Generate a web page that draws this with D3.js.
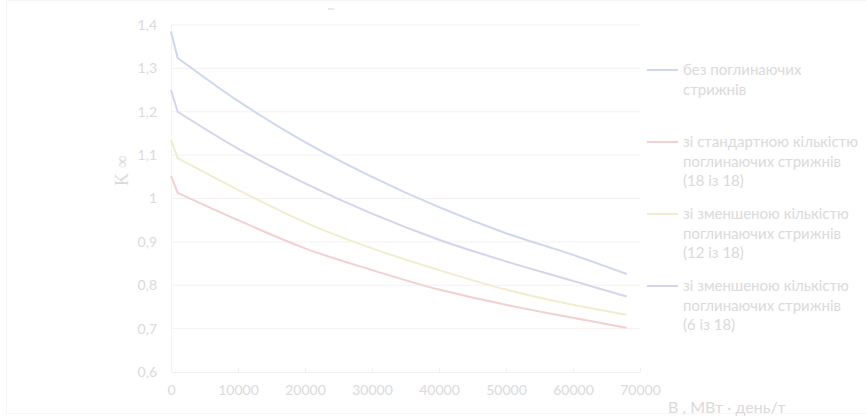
<!DOCTYPE html>
<html>
<head>
<meta charset="utf-8">
<script src="https://cdn.jsdelivr.net/npm/d3@7"></script>
<style>
  html, body { margin: 0; padding: 0; background: #fff; }
  svg { display: block; }
</style>
</head>
<body>
<svg id="chart" width="866" height="416"></svg>
<script>
// Burn-up (MW·day/t) sampling points
const burnup = [0, 1000, 10000, 20000, 30000, 40000, 50000, 60000, 68000];

// K∞ for each absorber-rod configuration
const noRods   = [1.385, 1.324, 1.225, 1.13, 1.05, 0.98, 0.92, 0.87, 0.826];
const rods18   = [1.052, 1.013, 0.95, 0.885, 0.835, 0.79, 0.755, 0.725, 0.702];
const rods12   = [1.135, 1.093, 1.02, 0.945, 0.885, 0.835, 0.79, 0.755, 0.732];
const rods6    = [1.25, 1.20, 1.115, 1.035, 0.965, 0.905, 0.855, 0.81, 0.774];

const seriesNames = [
  ["без поглинаючих", "стрижнів"],
  ["зі стандартною кількістю", "поглинаючих стрижнів", "(18 із 18)"],
  ["зі зменшеною кількістю", "поглинаючих стрижнів", "(12 із 18)"],
  ["зі зменшеною кількістю", "поглинаючих стрижнів", "(6 із 18)"]
];
const seriesColors = ["#cdd7ee", "#f2d0d0", "#f1edcf", "#d6d4ea"];

const xTicks = [0, 10000, 20000, 30000, 40000, 50000, 60000, 70000];
const yTicks = [0.6, 0.7, 0.8, 0.9, 1.0, 1.1, 1.2, 1.3, 1.4];

const series = [noRods, rods18, rods12, rods6];

const svg = d3.select("#chart");
const plotLeft = 171, plotRight = 640, plotTop = 25, plotBottom = 372;
const textColor = "#dadada";
const font = "Lato, 'Open Sans', sans-serif";

const x = d3.scaleLinear().domain([0, 70000]).range([plotLeft, plotRight]);
const y = d3.scaleLinear().domain([0.6, 1.4]).range([plotBottom, plotTop]);

// faint outer frame
svg.append("rect")
  .attr("x", 6.5).attr("y", 0.5).attr("width", 880).attr("height", 413)
  .attr("fill", "none").attr("stroke", "#f6f6f6");

// horizontal gridlines
svg.append("g").selectAll("line").data(yTicks.slice(1)).join("line")
  .attr("x1", plotLeft).attr("x2", plotRight)
  .attr("y1", d => y(d)).attr("y2", d => y(d))
  .attr("stroke", "#f5f2f2").attr("stroke-width", 1);

// y axis
const yAxis = d3.axisLeft(y).tickValues(yTicks)
  .tickFormat(d => d === 1 ? "1" : d3.format(".1f")(d).replace(".", ","))
  .tickSize(0).tickPadding(14);
const gy = svg.append("g").attr("transform", `translate(${plotLeft},0)`).call(yAxis);
gy.select(".domain").attr("stroke", "#f4f2f2");
gy.selectAll("text").attr("fill", textColor)
  .style("font-family", font).style("font-size", "14px");

// x axis
const xAxis = d3.axisBottom(x).tickValues(xTicks).tickFormat(d3.format("d"))
  .tickSizeInner(-4).tickSizeOuter(0).tickPadding(13);
const gx = svg.append("g").attr("transform", `translate(0,${plotBottom})`).call(xAxis);
gx.select(".domain").attr("stroke", "#f2f0f0");
gx.selectAll(".tick line").attr("stroke", "#f2f0f0");
gx.selectAll("text").attr("fill", textColor)
  .style("font-family", font).style("font-size", "14px");

// curves: the initial xenon drop is a straight segment, the burn-up tail is smoothed
const pts = vals => vals.map((v, i) => [burnup[i], v]);
const drop = d3.line().x(d => x(d[0])).y(d => y(d[1]));
const tail = d3.line().x(d => x(d[0])).y(d => y(d[1])).curve(d3.curveMonotoneX);
svg.append("g").selectAll("path").data(series).join("path")
  .attr("d", d => {
    const p = pts(d);
    return drop(p.slice(0, 2)) + tail(p.slice(1)).replace(/^M/, "L");
  })
  .attr("fill", "none")
  .attr("stroke", (d, i) => seriesColors[i])
  .attr("stroke-width", 2)
  .attr("stroke-linejoin", "round");

// axis titles
svg.append("text")
  .attr("transform", "translate(128,186) rotate(-90)")
  .attr("fill", textColor)
  .style("font-family", "'Liberation Serif', serif").style("font-size", "18px")
  .text("K ∞");

svg.append("text")
  .attr("x", 668).attr("y", 413)
  .attr("fill", textColor)
  .style("font-family", font).style("font-size", "16px")
  .text("В , МВт · день/т");

// small mark above the plot
svg.append("line")
  .attr("x1", 328).attr("x2", 334).attr("y1", 9).attr("y2", 9)
  .attr("stroke", "#dedede").attr("stroke-width", 1.2);

// legend
const legendY = [70, 142, 214, 286];
const lg = svg.append("g").selectAll("g").data(seriesNames).join("g")
  .attr("transform", (d, i) => `translate(647,${legendY[i]})`);
lg.append("line")
  .attr("x1", 0).attr("x2", 31).attr("y1", 0).attr("y2", 0)
  .attr("stroke", (d, i) => seriesColors[i]).attr("stroke-width", 2);
lg.append("text")
  .attr("x", 36).attr("y", 5)
  .attr("fill", textColor)
  .style("font-family", font).style("font-size", "15px")
  .selectAll("tspan").data(d => d).join("tspan")
  .attr("x", 36).attr("dy", (d, i) => i === 0 ? 0 : 19.5)
  .text(d => d);
</script>
</body>
</html>
